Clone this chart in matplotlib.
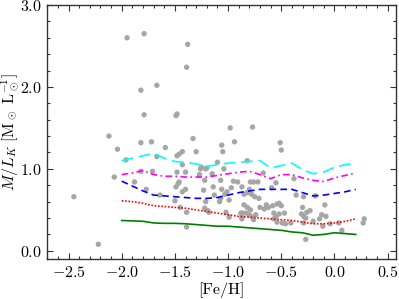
import numpy as np
import matplotlib
matplotlib.use("Agg")
import matplotlib.pyplot as plt
from matplotlib.ticker import MultipleLocator, FormatStrFormatter

plt.rcParams.update({
    "font.family": "serif",
    "font.serif": ["cmr10"],
    "mathtext.fontset": "cm",
    "axes.formatter.use_mathtext": True,
    "axes.unicode_minus": True,
})

# Observed points
feh_obs = [-1.95, -1.79, -1.38, -1.39, -1.82, -1.67, -1.79, -1.49, -1.48, -2.12,
           -2.04, -1.82, -1.72, -1.59, -1.33, -0.98, -0.77, -1.06, -0.94, -0.51,
           -0.50, -2.45, -2.22, -1.30, -1.48, -1.46, -1.43, -1.96, -1.67, -1.43,
           -1.25, -1.21, -1.26, -1.71, -1.82, -1.48, -1.40, -2.07, -1.27, -1.88,
           -1.46, -1.47, -1.40, -1.49, -1.77, -1.05, -1.10, -0.82, -1.20, -1.04,
           -1.15, -0.67, -1.22, -1.07, -0.95, -0.91, -0.79, -0.76, -0.72, -0.38,
           -0.55, -1.14, -0.87, -0.59, -1.06, -1.23, -0.80, -1.64, -1.43, -1.50,
           -1.45, -1.39, -1.22, -1.21, -1.19, -1.39, -0.97, -1.13, -1.07, -1.08,
           -1.03, -1.01, -0.99, -0.85, -0.82, -0.78, -0.75, -0.71, -0.36, -0.85,
           -0.82, -0.79, -0.83, -0.80, -0.77, -0.86, -0.74, -0.88, -0.87, -0.76,
           -0.70, -0.64, -0.62, -0.58, -0.54, -0.50, -0.52, -0.66, -0.57, -0.55,
           -0.52, -0.47, -0.57, -0.54, -0.49, -0.46, -0.41, -1.18, -1.02, -0.99,
           -0.87, -0.29, -0.18, -0.09, -0.30, -0.26, -0.23, -0.31, -0.29, -0.27,
           -0.12, -0.08, -0.14, -0.20, -0.29, -0.11, -0.04, 0.04, 0.07, 0.28,
           0.27, -0.27]
ml_obs = [2.60, 2.65, 2.52, 2.24, 1.96, 2.02, 1.66, 1.65, 1.67, 1.40,
          1.24, 1.32, 1.33, 1.26, 1.37, 1.50, 1.51, 1.29, 1.33, 1.32,
          1.23, 0.66, 0.08, 1.21, 1.16, 1.18, 1.21, 1.11, 1.15, 1.05,
          1.02, 1.00, 1.00, 0.97, 0.97, 0.96, 0.96, 0.90, 0.93, 0.84,
          0.84, 0.82, 0.75, 0.78, 0.75, 1.21, 1.08, 1.10, 1.01, 1.00,
          0.94, 0.95, 0.86, 0.86, 0.85, 0.84, 0.84, 0.84, 0.84, 0.88,
          0.83, 0.78, 0.78, 0.77, 0.75, 0.74, 0.75, 0.68, 0.72, 0.61,
          0.53, 0.47, 0.52, 0.60, 0.49, 0.29, 0.77, 0.68, 0.64, 0.60,
          0.69, 0.72, 0.62, 0.69, 0.71, 0.69, 0.66, 0.64, 0.68, 0.56,
          0.53, 0.50, 0.46, 0.44, 0.41, 0.46, 0.44, 0.46, 0.41, 0.38,
          0.53, 0.56, 0.53, 0.55, 0.57, 0.55, 0.58, 0.51, 0.46, 0.42,
          0.45, 0.46, 0.39, 0.35, 0.34, 0.33, 0.34, 0.47, 0.47, 0.41,
          0.39, 0.66, 0.67, 0.56, 0.53, 0.47, 0.49, 0.45, 0.42, 0.40,
          0.44, 0.42, 0.39, 0.36, 0.34, 0.30, 0.33, 0.34, 0.25, 0.39,
          0.34, 0.14]

# Model tracks
feh_model = [-2.0, -1.9, -1.8, -1.7, -1.6, -1.5, -1.4, -1.3, -1.2, -1.1, -1.0,
             -0.9, -0.8, -0.7, -0.6, -0.5, -0.4, -0.3, -0.2, -0.1, 0.0, 0.1, 0.2]
ml_green = [0.37, 0.365, 0.36, 0.34, 0.335, 0.335, 0.33, 0.32, 0.31, 0.30, 0.30,
            0.29, 0.28, 0.27, 0.26, 0.25, 0.23, 0.22, 0.19, 0.20, 0.22, 0.21, 0.20]
ml_red = [0.61, 0.60, 0.58, 0.55, 0.54, 0.53, 0.52, 0.50, 0.48, 0.46, 0.44,
          0.42, 0.41, 0.40, 0.39, 0.38, 0.37, 0.35, 0.33, 0.33, 0.34, 0.36, 0.39]
ml_blue = [0.85, 0.79, 0.73, 0.68, 0.67, 0.66, 0.65, 0.64, 0.64, 0.65, 0.68,
           0.71, 0.73, 0.75, 0.75, 0.75, 0.75, 0.71, 0.67, 0.68, 0.70, 0.72, 0.75]
ml_magenta = [0.93, 0.95, 0.98, 0.93, 0.91, 0.91, 0.90, 0.90, 0.90, 0.92, 0.94,
              0.96, 0.97, 0.93, 0.88, 0.93, 0.93, 0.89, 0.86, 0.845, 0.89, 0.92, 0.95]
ml_cyan = [1.10, 1.13, 1.16, 1.19, 1.13, 1.09, 1.08, 1.06, 1.03, 1.05, 1.07,
           1.08, 1.09, 1.10, 1.01, 1.04, 1.07, 0.99, 0.94, 0.96, 1.02, 1.05, 1.07]

fig = plt.figure(figsize=(3.99, 2.99), dpi=100)
ax = fig.add_axes([0.1185, 0.1338, 0.873, 0.8495])

ax.scatter(feh_obs, ml_obs, s=15, color="#a6a6a6", edgecolors="none", zorder=1)

ax.plot(feh_model, ml_green, color="#008000", lw=1.2, ls="-", zorder=2)
ax.plot(feh_model, ml_red, color="#ff0000", lw=1.2, ls=(0, (1, 1)), zorder=2)
ax.plot(feh_model, ml_blue, color="#0000ff", lw=1.2, ls=(0, (4, 2.5)), zorder=2)
ax.plot(feh_model, ml_magenta, color="#ff00ff", lw=1.2, ls=(0, (4, 2, 1, 2)), zorder=2)
ax.plot(feh_model, ml_cyan, color="#00ffff", lw=1.2, ls=(0, (7, 3.5)), zorder=2)

ax.set_xlim(-2.7, 0.575)
ax.set_ylim(-0.1, 3.0)
ax.xaxis.set_major_locator(MultipleLocator(0.5))
ax.xaxis.set_minor_locator(MultipleLocator(0.1))
ax.yaxis.set_major_locator(MultipleLocator(1.0))
ax.yaxis.set_minor_locator(MultipleLocator(0.2))
ax.yaxis.set_major_formatter(FormatStrFormatter(r"$%.1f$"))
ax.xaxis.set_major_formatter(FormatStrFormatter(r"$%.1f$"))

ax.tick_params(which="both", direction="in", top=True, right=True,
               labelsize=11.5, color="#333333", width=0.8)
ax.tick_params(which="major", length=4, pad=4)
ax.tick_params(which="minor", length=2)
for sp in ax.spines.values():
    sp.set_color("#333333")
    sp.set_linewidth(1.0)

ax.set_xlabel(r"[Fe/H]", fontsize=11.5, labelpad=2)
ax.set_ylabel(r"$M/L_K\ [\mathrm{M}_\odot\ \mathrm{L}_\odot^{-1}]$", fontsize=11.5)
ax.yaxis.set_label_coords(-0.075, 0.5)

fig.savefig("out.png", dpi=100)
